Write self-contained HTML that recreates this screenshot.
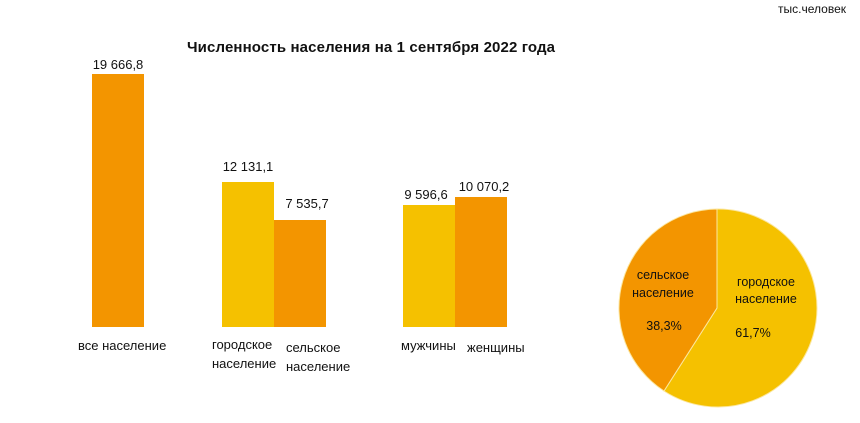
<!DOCTYPE html>
<html><head><meta charset="utf-8"><style>
body{margin:0;background:#fff;width:860px;height:418px;overflow:hidden}
svg text{font-family:"Liberation Sans",sans-serif;fill:#111}
</style></head><body>
<svg width="860" height="418" viewBox="0 0 860 418">
<text x="846" y="13" font-size="12" text-anchor="end">тыс.человек</text>
<text x="371" y="52" font-size="15" font-weight="bold" text-anchor="middle" textLength="368">Численность населения на 1 сентября 2022 года</text>
<rect x="92" y="74" width="52" height="253" fill="#F39500"/>
<rect x="222" y="182" width="52" height="145" fill="#F5C100"/>
<rect x="274" y="220" width="52" height="107" fill="#F39500"/>
<rect x="403" y="205" width="52" height="122" fill="#F5C100"/>
<rect x="455" y="197" width="52" height="130" fill="#F39500"/>
<g font-size="13">
<text x="118" y="69" text-anchor="middle">19 666,8</text>
<text x="248" y="171" text-anchor="middle">12 131,1</text>
<text x="307" y="208" text-anchor="middle">7 535,7</text>
<text x="426" y="199" text-anchor="middle">9 596,6</text>
<text x="484" y="191" text-anchor="middle">10 070,2</text>
<text x="78" y="350">все население</text>
<text x="212" y="349">городское</text>
<text x="212" y="368">население</text>
<text x="286" y="352">сельское</text>
<text x="286" y="371">население</text>
<text x="401" y="350">мужчины</text>
<text x="467" y="352">женщины</text>
</g>
<path d="M717,308 L717,209 A99,99 0 1 1 664,391 Z" fill="#F5C100" stroke="#fbe7a0" stroke-width="1"/>
<path d="M717,308 L664,391 A99,99 0 0 1 717,209 Z" fill="#F39500" stroke="#fbe7a0" stroke-width="1"/>
<g font-size="12.5">
<text x="663" y="279" text-anchor="middle">сельское</text>
<text x="663" y="297" text-anchor="middle">население</text>
<text x="664" y="330" text-anchor="middle">38,3%</text>
<text x="766" y="286" text-anchor="middle">городское</text>
<text x="766" y="303" text-anchor="middle">население</text>
<text x="753" y="337" text-anchor="middle">61,7%</text>
</g>
</svg>
</body></html>
